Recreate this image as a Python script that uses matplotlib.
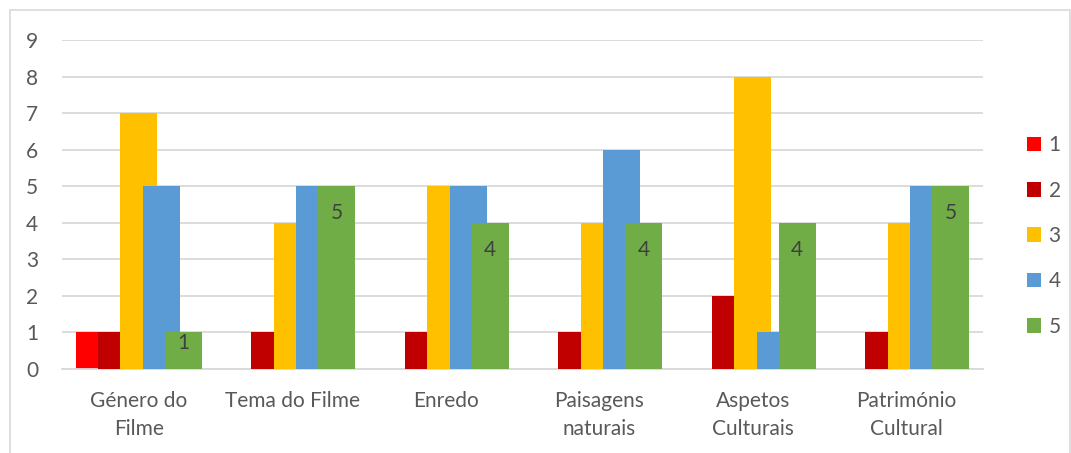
import numpy as np
import matplotlib.pyplot as plt
from matplotlib.patches import Patch, Rectangle

plt.rcParams['font.family'] = ['Lato', 'DejaVu Sans']

categorias = ['Género do\nFilme', 'Tema do Filme', 'Enredo', 'Paisagens\nnaturais',
              'Aspetos\nCulturais', 'Património\nCultural']
series = ['1', '2', '3', '4', '5']
v1 = [1, 0, 0, 0, 0, 0]
v2 = [1, 1, 1, 1, 2, 1]
v3 = [7, 4, 5, 4, 8, 4]
v4 = [5, 5, 5, 6, 1, 5]
v5 = [1, 5, 4, 4, 4, 5]
valores = [v1, v2, v3, v4, v5]
cores = ['#FF0000', '#C00000', '#FFC000', '#5B9BD5', '#70AD47']

W, H = 1071, 453
fig = plt.figure(figsize=(W / 100, H / 100), dpi=100)
ax = fig.add_axes([62 / W, 1 - 369 / H, (983 - 62) / W, (369 - 40) / H])

x = np.arange(len(categorias))
passo = 0.145   # barras sobrepostas
largura = 0.241
for i, (vals, cor) in enumerate(zip(valores, cores)):
    xs = x + (i - 2) * passo
    vals = np.array(vals)
    m = vals > 0
    ax.bar(xs[m], vals[m], width=largura, color=cor, zorder=2 + i)

# rótulos da série 5
for xi, v in zip(x + 2 * passo, v5):
    ax.text(xi, v - min(0.74, 0.3 * v), str(v), ha='center', va='center',
            fontsize=15, color='#404040', zorder=10)

ax.set_xlim(-0.5, len(categorias) - 0.5)
ax.set_ylim(0, 9)
ax.set_yticks(range(10))
ax.set_xticks(x)
ax.set_xticklabels(categorias, linespacing=1.5)
ax.yaxis.grid(True, color='#D9D9D9', lw=1.3, zorder=0)
ax.set_axisbelow(True)
for s in ['top', 'right', 'left']:
    ax.spines[s].set_visible(False)
ax.spines['bottom'].set_color('#D9D9D9')
ax.spines['bottom'].set_linewidth(1.3)
ax.tick_params(axis='both', length=0, labelsize=15, labelcolor='#595959')
ax.tick_params(axis='y', pad=17)
ax.tick_params(axis='x', pad=16)

handles = [Patch(facecolor=c, edgecolor='none') for c in cores]
fig.legend(handles, series, loc='center left', bbox_to_anchor=(1008 / W, 1 - 236 / H),
           frameon=False, fontsize=15, handlelength=0.7, handleheight=0.7,
           handletextpad=0.35, labelspacing=1.22, labelcolor='#595959')

fig.patches.append(Rectangle((10 / W, -0.05), 1060 / W, 1.05 - 10 / H,
                             transform=fig.transFigure, fill=False,
                             edgecolor='#D9D9D9', lw=1.2))

fig.savefig('out.png', dpi=100)
